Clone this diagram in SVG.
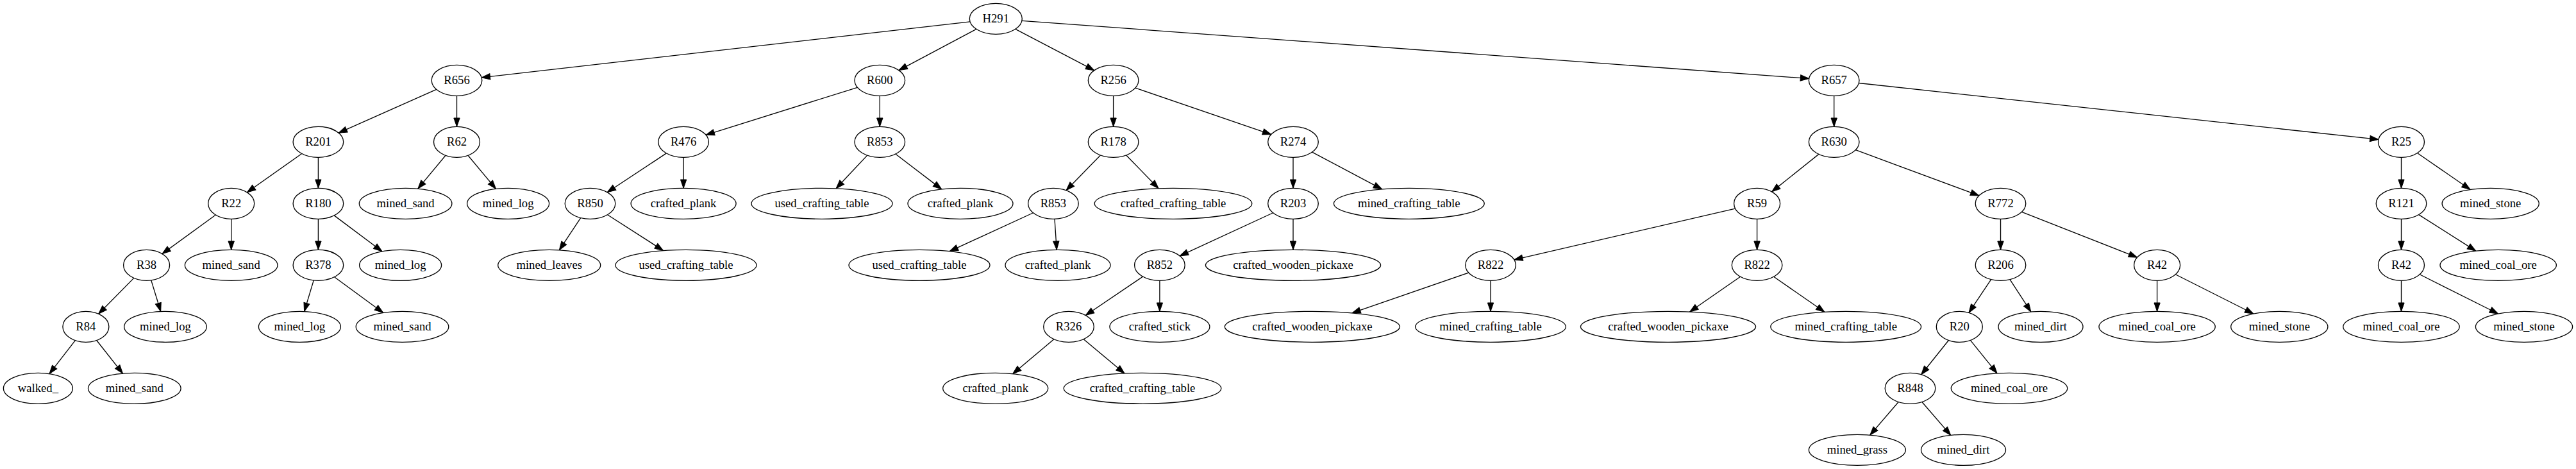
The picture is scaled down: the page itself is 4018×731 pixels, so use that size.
<svg xmlns="http://www.w3.org/2000/svg" width="4018" height="731" viewBox="0 0 4018 731">
<style>
.n ellipse{fill:#fff;stroke:#000;stroke-width:1.33}
.n text{font-family:"Liberation Serif","Times New Roman",serif;font-size:18.67px;text-anchor:middle;fill:#000}
#edges line{stroke:#000;stroke-width:1.33;marker-end:url(#arr)}
</style>
<defs>
<marker id="arr" markerUnits="userSpaceOnUse" markerWidth="14" markerHeight="10" refX="13.33" refY="4.67" orient="auto" overflow="visible"><path d="M0,0 L13.33,4.67 L0,9.33 z" fill="#000" stroke="#000" stroke-width="1"/></marker>
</defs>
<rect width="4018" height="731" fill="#fff"/>
<g id="edges">
<line x1="1513.06" y1="33.89" x2="751.13" y2="120.89"/>
<line x1="1522.91" y1="45.42" x2="1401.97" y2="109.56"/>
<line x1="1583.86" y1="45.3" x2="1706.77" y2="109.68"/>
<line x1="1593.98" y1="32.29" x2="2821.68" y2="122.43"/>
<line x1="680.72" y1="139.42" x2="528.18" y2="207.18"/>
<line x1="712.5" y1="149.3" x2="712.5" y2="197.3"/>
<line x1="1337.34" y1="136.26" x2="1101.06" y2="210.34"/>
<line x1="1372.3" y1="149.3" x2="1372.3" y2="197.3"/>
<line x1="1736.6" y1="149.3" x2="1736.6" y2="197.3"/>
<line x1="1770.88" y1="137.04" x2="1982.72" y2="209.56"/>
<line x1="2860.7" y1="149.3" x2="2860.7" y2="197.3"/>
<line x1="2899.39" y1="129.5" x2="3709.97" y2="217.44"/>
<line x1="470.72" y1="239.47" x2="385.39" y2="299.83"/>
<line x1="496.4" y1="245.3" x2="496.4" y2="293.3"/>
<line x1="695.03" y1="242.29" x2="651.85" y2="294.17"/>
<line x1="730" y1="242.27" x2="773.49" y2="294.39"/>
<line x1="1039.4" y1="238.91" x2="947.2" y2="299.69"/>
<line x1="1066.1" y1="245.3" x2="1066.1" y2="293.3"/>
<line x1="1352.72" y1="242.11" x2="1304.11" y2="293.79"/>
<line x1="1396.84" y1="240.04" x2="1468.66" y2="294.89"/>
<line x1="1716.48" y1="241.92" x2="1663.02" y2="296.68"/>
<line x1="1756.67" y1="241.93" x2="1807.06" y2="293.72"/>
<line x1="2017" y1="245.3" x2="2017" y2="293.3"/>
<line x1="2046.66" y1="237.05" x2="2155.62" y2="294.9"/>
<line x1="2836.84" y1="240.37" x2="2763.66" y2="298.87"/>
<line x1="2894.32" y1="233.72" x2="3086.88" y2="304.88"/>
<line x1="3745.5" y1="245.3" x2="3745.5" y2="293.3"/>
<line x1="3770.52" y1="238.56" x2="3853.09" y2="295.5"/>
<line x1="336.36" y1="334.99" x2="252.94" y2="395.61"/>
<line x1="360.7" y1="341.3" x2="360.7" y2="389.3"/>
<line x1="496.4" y1="341.3" x2="496.4" y2="389.3"/>
<line x1="521.24" y1="335.9" x2="595.94" y2="391.84"/>
<line x1="905.72" y1="339.54" x2="872.34" y2="389.76"/>
<line x1="947.58" y1="334.69" x2="1034.61" y2="390.58"/>
<line x1="1611.5" y1="331.73" x2="1481.18" y2="391.62"/>
<line x1="1645" y1="341.3" x2="1648.2" y2="389.3"/>
<line x1="1985.64" y1="331.77" x2="1840.26" y2="398.83"/>
<line x1="2017" y1="341.3" x2="2017" y2="389.3"/>
<line x1="2706.58" y1="325.16" x2="2361.76" y2="404.81"/>
<line x1="2740.6" y1="341.3" x2="2740.6" y2="389.3"/>
<line x1="3120.5" y1="341.3" x2="3120.5" y2="389.3"/>
<line x1="3153.54" y1="330.29" x2="3333.59" y2="401.11"/>
<line x1="3745.5" y1="341.3" x2="3745.5" y2="389.3"/>
<line x1="3772.74" y1="334.6" x2="3861.81" y2="391.15"/>
<line x1="208.82" y1="433.35" x2="153.68" y2="489.25"/>
<line x1="235.8" y1="436.82" x2="250.7" y2="485.46"/>
<line x1="489.27" y1="436.9" x2="474.6" y2="485.45"/>
<line x1="521.57" y1="431.73" x2="597.65" y2="487.44"/>
<line x1="1782.57" y1="431.12" x2="1693.33" y2="491.48"/>
<line x1="1808.9" y1="437.3" x2="1808.9" y2="485.3"/>
<line x1="2290.79" y1="425.11" x2="2108.86" y2="487.91"/>
<line x1="2325" y1="437.3" x2="2325" y2="485.3"/>
<line x1="2714.61" y1="431.3" x2="2635.59" y2="486.04"/>
<line x1="2766.59" y1="431.3" x2="2845.97" y2="486.28"/>
<line x1="3105.64" y1="435.52" x2="3070.96" y2="487.38"/>
<line x1="3135.02" y1="435.6" x2="3167.8" y2="485.95"/>
<line x1="3364.6" y1="437.3" x2="3364.6" y2="485.3"/>
<line x1="3393.33" y1="427.76" x2="3514.97" y2="489"/>
<line x1="3745.5" y1="437.3" x2="3745.5" y2="485.3"/>
<line x1="3774.27" y1="427.72" x2="3896.55" y2="489.02"/>
<line x1="117.36" y1="530.62" x2="77.01" y2="582.61"/>
<line x1="150.69" y1="530.53" x2="191.45" y2="582.09"/>
<line x1="1643.89" y1="528.71" x2="1579.68" y2="582.64"/>
<line x1="1690.2" y1="528.67" x2="1754.01" y2="581.93"/>
<line x1="3039.36" y1="530.48" x2="2996.75" y2="583.74"/>
<line x1="3073.39" y1="530.42" x2="3115.01" y2="581.83"/>
<line x1="2961.22" y1="626.55" x2="2916.82" y2="678.15"/>
<line x1="2997.85" y1="626.52" x2="3042.71" y2="678.4"/>
</g>
<g id="H291" class="n"><ellipse cx="1553.3" cy="29.3" rx="41" ry="24"/><text x="1553.3" y="35.3">H291</text></g>
<g id="R656" class="n"><ellipse cx="712.5" cy="125.3" rx="39.3" ry="24"/><text x="712.5" y="131.3">R656</text></g>
<g id="R600" class="n"><ellipse cx="1372.3" cy="125.3" rx="39.3" ry="24"/><text x="1372.3" y="131.3">R600</text></g>
<g id="R256" class="n"><ellipse cx="1736.6" cy="125.3" rx="39.3" ry="24"/><text x="1736.6" y="131.3">R256</text></g>
<g id="R657" class="n"><ellipse cx="2860.7" cy="125.3" rx="39.3" ry="24"/><text x="2860.7" y="131.3">R657</text></g>
<g id="R201" class="n"><ellipse cx="496.4" cy="221.3" rx="39.3" ry="24"/><text x="496.4" y="227.3">R201</text></g>
<g id="R62" class="n"><ellipse cx="712.5" cy="221.3" rx="36" ry="24"/><text x="712.5" y="227.3">R62</text></g>
<g id="R476" class="n"><ellipse cx="1066.1" cy="221.3" rx="39.3" ry="24"/><text x="1066.1" y="227.3">R476</text></g>
<g id="R853" class="n"><ellipse cx="1372.3" cy="221.3" rx="39.3" ry="24"/><text x="1372.3" y="227.3">R853</text></g>
<g id="R178" class="n"><ellipse cx="1736.6" cy="221.3" rx="39.3" ry="24"/><text x="1736.6" y="227.3">R178</text></g>
<g id="R274" class="n"><ellipse cx="2017" cy="221.3" rx="39.3" ry="24"/><text x="2017" y="227.3">R274</text></g>
<g id="R630" class="n"><ellipse cx="2860.7" cy="221.3" rx="39.3" ry="24"/><text x="2860.7" y="227.3">R630</text></g>
<g id="R25" class="n"><ellipse cx="3745.5" cy="221.3" rx="36" ry="24"/><text x="3745.5" y="227.3">R25</text></g>
<g id="R22" class="n"><ellipse cx="360.7" cy="317.3" rx="36" ry="24"/><text x="360.7" y="323.3">R22</text></g>
<g id="R180" class="n"><ellipse cx="496.4" cy="317.3" rx="39.3" ry="24"/><text x="496.4" y="323.3">R180</text></g>
<g id="mined_sand_1" class="n"><ellipse cx="632.6" cy="317.3" rx="72.3" ry="24"/><text x="632.6" y="323.3">mined_sand</text></g>
<g id="mined_log_1" class="n"><ellipse cx="792.6" cy="317.3" rx="64" ry="24"/><text x="792.6" y="323.3">mined_log</text></g>
<g id="R850" class="n"><ellipse cx="920.5" cy="317.3" rx="39.3" ry="24"/><text x="920.5" y="323.3">R850</text></g>
<g id="crafted_plank_1" class="n"><ellipse cx="1066.1" cy="317.3" rx="82" ry="24"/><text x="1066.1" y="323.3">crafted_plank</text></g>
<g id="used_crafting_table_1" class="n"><ellipse cx="1282" cy="317.3" rx="110" ry="24"/><text x="1282" y="323.3">used_crafting_table</text></g>
<g id="crafted_plank_2" class="n"><ellipse cx="1498" cy="317.3" rx="82" ry="24"/><text x="1498" y="323.3">crafted_plank</text></g>
<g id="R853b" class="n"><ellipse cx="1642.9" cy="317.3" rx="39.3" ry="24"/><text x="1642.9" y="323.3">R853</text></g>
<g id="crafted_crafting_table_1" class="n"><ellipse cx="1830" cy="317.3" rx="122.8" ry="24"/><text x="1830" y="323.3">crafted_crafting_table</text></g>
<g id="R203" class="n"><ellipse cx="2017" cy="317.3" rx="39.3" ry="24"/><text x="2017" y="323.3">R203</text></g>
<g id="mined_crafting_table_1" class="n"><ellipse cx="2197.8" cy="317.3" rx="117.4" ry="24"/><text x="2197.8" y="323.3">mined_crafting_table</text></g>
<g id="R59" class="n"><ellipse cx="2740.6" cy="317.3" rx="36" ry="24"/><text x="2740.6" y="323.3">R59</text></g>
<g id="R772" class="n"><ellipse cx="3120.5" cy="317.3" rx="39.3" ry="24"/><text x="3120.5" y="323.3">R772</text></g>
<g id="R121" class="n"><ellipse cx="3745.5" cy="317.3" rx="39.3" ry="24"/><text x="3745.5" y="323.3">R121</text></g>
<g id="mined_stone_1" class="n"><ellipse cx="3884.7" cy="317.3" rx="75.6" ry="24"/><text x="3884.7" y="323.3">mined_stone</text></g>
<g id="R38" class="n"><ellipse cx="228.6" cy="413.3" rx="36" ry="24"/><text x="228.6" y="419.3">R38</text></g>
<g id="mined_sand_2" class="n"><ellipse cx="360.7" cy="413.3" rx="72.3" ry="24"/><text x="360.7" y="419.3">mined_sand</text></g>
<g id="R378" class="n"><ellipse cx="496.4" cy="413.3" rx="39.3" ry="24"/><text x="496.4" y="419.3">R378</text></g>
<g id="mined_log_2" class="n"><ellipse cx="624.6" cy="413.3" rx="64" ry="24"/><text x="624.6" y="419.3">mined_log</text></g>
<g id="mined_leaves" class="n"><ellipse cx="856.7" cy="413.3" rx="80" ry="24"/><text x="856.7" y="419.3">mined_leaves</text></g>
<g id="used_crafting_table_2" class="n"><ellipse cx="1070" cy="413.3" rx="110" ry="24"/><text x="1070" y="419.3">used_crafting_table</text></g>
<g id="used_crafting_table_3" class="n"><ellipse cx="1434" cy="413.3" rx="110" ry="24"/><text x="1434" y="419.3">used_crafting_table</text></g>
<g id="crafted_plank_3" class="n"><ellipse cx="1650" cy="413.3" rx="82" ry="24"/><text x="1650" y="419.3">crafted_plank</text></g>
<g id="R852" class="n"><ellipse cx="1808.9" cy="413.3" rx="39.3" ry="24"/><text x="1808.9" y="419.3">R852</text></g>
<g id="crafted_wooden_pickaxe_1" class="n"><ellipse cx="2017" cy="413.3" rx="136.6" ry="24"/><text x="2017" y="419.3">crafted_wooden_pickaxe</text></g>
<g id="R822a" class="n"><ellipse cx="2325" cy="413.3" rx="39.3" ry="24"/><text x="2325" y="419.3">R822</text></g>
<g id="R822b" class="n"><ellipse cx="2740.6" cy="413.3" rx="39.3" ry="24"/><text x="2740.6" y="419.3">R822</text></g>
<g id="R206" class="n"><ellipse cx="3120.5" cy="413.3" rx="39.3" ry="24"/><text x="3120.5" y="419.3">R206</text></g>
<g id="R42a" class="n"><ellipse cx="3364.6" cy="413.3" rx="36" ry="24"/><text x="3364.6" y="419.3">R42</text></g>
<g id="R42b" class="n"><ellipse cx="3745.5" cy="413.3" rx="36" ry="24"/><text x="3745.5" y="419.3">R42</text></g>
<g id="mined_coal_ore_1" class="n"><ellipse cx="3896.7" cy="413.3" rx="90.7" ry="24"/><text x="3896.7" y="419.3">mined_coal_ore</text></g>
<g id="R84" class="n"><ellipse cx="133.9" cy="509.3" rx="36" ry="24"/><text x="133.9" y="515.3">R84</text></g>
<g id="mined_log_3" class="n"><ellipse cx="258" cy="509.3" rx="64.3" ry="24"/><text x="258" y="515.3">mined_log</text></g>
<g id="mined_log_4" class="n"><ellipse cx="467.4" cy="509.3" rx="64" ry="24"/><text x="467.4" y="515.3">mined_log</text></g>
<g id="mined_sand_3" class="n"><ellipse cx="627.5" cy="509.3" rx="72.3" ry="24"/><text x="627.5" y="515.3">mined_sand</text></g>
<g id="R326" class="n"><ellipse cx="1667" cy="509.3" rx="39.3" ry="24"/><text x="1667" y="515.3">R326</text></g>
<g id="crafted_stick" class="n"><ellipse cx="1808.9" cy="509.3" rx="78" ry="24"/><text x="1808.9" y="515.3">crafted_stick</text></g>
<g id="crafted_wooden_pickaxe_2" class="n"><ellipse cx="2046.9" cy="509.3" rx="136.6" ry="24"/><text x="2046.9" y="515.3">crafted_wooden_pickaxe</text></g>
<g id="mined_crafting_table_2" class="n"><ellipse cx="2325" cy="509.3" rx="117.4" ry="24"/><text x="2325" y="515.3">mined_crafting_table</text></g>
<g id="crafted_wooden_pickaxe_3" class="n"><ellipse cx="2602" cy="509.3" rx="136.6" ry="24"/><text x="2602" y="515.3">crafted_wooden_pickaxe</text></g>
<g id="mined_crafting_table_3" class="n"><ellipse cx="2879.2" cy="509.3" rx="117.4" ry="24"/><text x="2879.2" y="515.3">mined_crafting_table</text></g>
<g id="R20" class="n"><ellipse cx="3056.3" cy="509.3" rx="36" ry="24"/><text x="3056.3" y="515.3">R20</text></g>
<g id="mined_dirt_1" class="n"><ellipse cx="3183" cy="509.3" rx="66" ry="24"/><text x="3183" y="515.3">mined_dirt</text></g>
<g id="mined_coal_ore_2" class="n"><ellipse cx="3364.6" cy="509.3" rx="90.7" ry="24"/><text x="3364.6" y="515.3">mined_coal_ore</text></g>
<g id="mined_stone_2" class="n"><ellipse cx="3555.3" cy="509.3" rx="75.6" ry="24"/><text x="3555.3" y="515.3">mined_stone</text></g>
<g id="mined_coal_ore_3" class="n"><ellipse cx="3745.5" cy="509.3" rx="90.7" ry="24"/><text x="3745.5" y="515.3">mined_coal_ore</text></g>
<g id="mined_stone_3" class="n"><ellipse cx="3937" cy="509.3" rx="75.6" ry="24"/><text x="3937" y="515.3">mined_stone</text></g>
<g id="walked_" class="n"><ellipse cx="59.4" cy="605.3" rx="54" ry="24"/><text x="59.4" y="611.3">walked_</text></g>
<g id="mined_sand_4" class="n"><ellipse cx="209.8" cy="605.3" rx="72.3" ry="24"/><text x="209.8" y="611.3">mined_sand</text></g>
<g id="crafted_plank_4" class="n"><ellipse cx="1552.7" cy="605.3" rx="82" ry="24"/><text x="1552.7" y="611.3">crafted_plank</text></g>
<g id="crafted_crafting_table_2" class="n"><ellipse cx="1782" cy="605.3" rx="122.8" ry="24"/><text x="1782" y="611.3">crafted_crafting_table</text></g>
<g id="R848" class="n"><ellipse cx="2979.5" cy="605.3" rx="39.3" ry="24"/><text x="2979.5" y="611.3">R848</text></g>
<g id="mined_coal_ore_4" class="n"><ellipse cx="3134" cy="605.3" rx="90.7" ry="24"/><text x="3134" y="611.3">mined_coal_ore</text></g>
<g id="mined_grass" class="n"><ellipse cx="2896.9" cy="701.3" rx="75.5" ry="24"/><text x="2896.9" y="707.3">mined_grass</text></g>
<g id="mined_dirt_2" class="n"><ellipse cx="3062.5" cy="701.3" rx="66" ry="24"/><text x="3062.5" y="707.3">mined_dirt</text></g>
</svg>
